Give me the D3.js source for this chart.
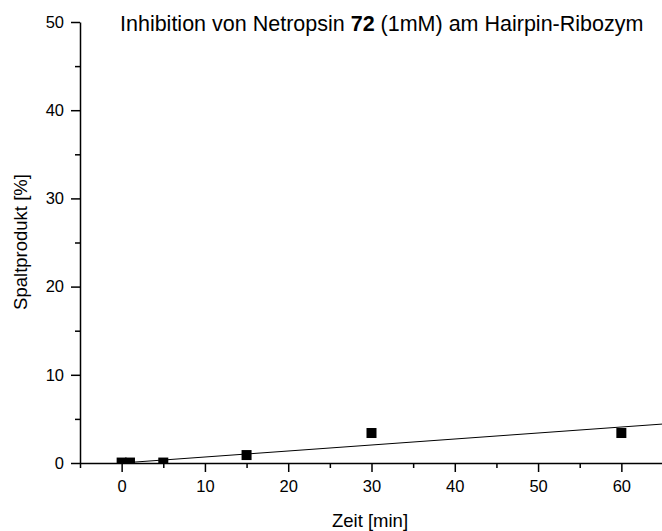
<!DOCTYPE html>
<html>
<head>
<meta charset="utf-8">
<script src="https://cdn.jsdelivr.net/npm/d3@7"></script>
<style>
  body { margin: 0; background: #fff; }
  text { font-family: "Liberation Sans", Arial, sans-serif; fill: #000; }
</style>
</head>
<body>
<div id="chart"></div>
<script>
// measured data: time [min] vs cleavage product [%]
const zeit = [0, 1, 5, 15, 30, 60];
const spaltprodukt = [0.05, 0.05, 0.05, 0.9, 3.4, 3.4];
// linear fit line end points
const fitZeit = [0, 65];
const fitWert = [0, 4.42];
const xTicks = [0, 10, 20, 30, 40, 50, 60];
const yTicks = [0, 10, 20, 30, 40, 50];

const W = 662, H = 531;
const svg = d3.select("#chart").append("svg")
  .attr("width", W).attr("height", H);

const x = d3.scaleLinear().domain([-5, 65]).range([80, 663]);
const y = d3.scaleLinear().domain([0, 50]).range([463, 22]);

// clip for plot area
svg.append("clipPath").attr("id", "clip")
  .append("rect").attr("x", 80).attr("y", 0).attr("width", W - 80).attr("height", 463);

// fit line
const fitData = fitZeit.map((d, i) => ({x: d, y: fitWert[i]}));
svg.append("path")
  .datum(fitData)
  .attr("clip-path", "url(#clip)")
  .attr("fill", "none")
  .attr("stroke", "#000")
  .attr("stroke-width", 1)
  .attr("d", d3.line().x(d => x(d.x)).y(d => y(d.y)));

// points
const pts = zeit.map((d, i) => ({x: d, y: spaltprodukt[i]}));
svg.append("g").attr("clip-path", "url(#clip)")
  .selectAll("rect")
  .data(pts).enter().append("rect")
  .attr("x", d => x(d.x) - 5)
  .attr("y", d => y(d.y) - 5)
  .attr("width", 10).attr("height", 10)
  .attr("fill", "#000");

// x axis
const xMinor = d3.range(-5, 66, 5).filter(v => v % 10 !== 0);
const gx = svg.append("g").attr("transform", `translate(0,${y(0)})`);
gx.call(d3.axisBottom(x).tickValues(xTicks).tickSize(9).tickPadding(8).tickSizeOuter(0));
gx.append("g").call(d3.axisBottom(x).tickValues(xMinor).tickSize(5).tickFormat("").tickSizeOuter(0))
  .select(".domain").remove();

// y axis
const yMinor = d3.range(5, 50, 10);
const gy = svg.append("g").attr("transform", `translate(${x(-5)},0)`);
gy.call(d3.axisLeft(y).tickValues(yTicks).tickSize(9).tickPadding(7).tickSizeOuter(0));
gy.append("g").call(d3.axisLeft(y).tickValues(yMinor).tickSize(5).tickFormat("").tickSizeOuter(0))
  .select(".domain").remove();

svg.selectAll(".domain, .tick line").attr("stroke", "#000").attr("stroke-width", 1.5);
svg.selectAll("g").attr("font-size", null).attr("font-family", null);
svg.selectAll(".tick text").style("font-size", "16.5px");

// axis titles
svg.append("text")
  .attr("x", 370).attr("y", 527)
  .attr("text-anchor", "middle")
  .style("font-size", "18.5px")
  .text("Zeit [min]");

svg.append("text")
  .attr("transform", "translate(27,242) rotate(-90)")
  .attr("text-anchor", "middle")
  .style("font-size", "18.5px")
  .text("Spaltprodukt [%]");

// title
const title = svg.append("text")
  .attr("x", 120).attr("y", 31)
  .style("font-size", "21.5px");
title.append("tspan").text("Inhibition von Netropsin ");
title.append("tspan").attr("font-weight", "bold").text("72");
title.append("tspan").text(" (1mM) am Hairpin-Ribozym");
</script>
</body>
</html>
